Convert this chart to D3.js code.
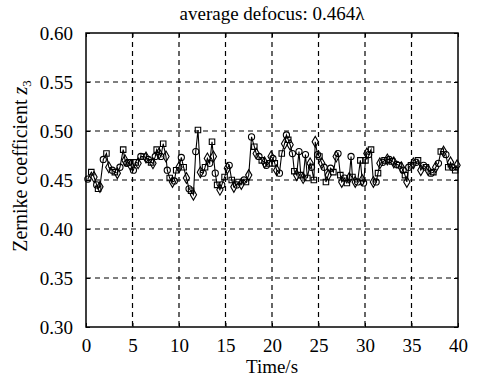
<!DOCTYPE html>
<html><head><meta charset="utf-8">
<script src="https://cdn.jsdelivr.net/npm/d3@7.8.5/dist/d3.min.js"></script>
<style>body{margin:0;background:#fff}svg{display:block}svg text{font-family:'Liberation Serif',serif !important}</style>
</head><body><svg id="c" width="480" height="379" font-family="Liberation Serif"></svg>
<script>
const time = [0.2,0.57,0.86,1.15,1.3,1.5,1.86,2.2,2.45,2.83,3.1,3.37,3.65,4.0,4.2,4.4,4.6,4.8,5.1,5.35,5.6,5.9,6.2,6.45,6.7,7.0,7.2,7.45,7.6,7.85,8.05,8.3,8.6,8.74,9.0,9.3,9.5,9.7,10.0,10.25,10.5,10.8,11.08,11.3,11.55,11.8,12.04,12.3,12.6,12.8,13.05,13.3,13.55,13.7,13.9,14.1,14.4,14.6,14.9,15.2,15.4,15.67,15.9,16.2,16.4,16.7,17.0,17.2,17.5,17.8,18.1,18.3,18.6,18.9,19.2,19.4,19.7,19.9,20.1,20.3,20.5,20.8,21.05,21.35,21.55,21.75,21.95,22.2,22.4,22.65,22.9,23.1,23.35,23.6,23.8,24.1,24.25,24.5,24.65,24.9,25.1,25.35,25.6,25.8,26.05,26.3,26.6,26.9,27.1,27.35,27.5,27.8,28.05,28.3,28.5,28.65,28.95,29.2,29.5,29.7,29.85,30.05,30.2,30.4,30.65,30.9,31.2,31.4,31.6,31.9,32.1,32.4,32.6,32.9,33.1,33.4,33.65,33.9,34.1,34.3,34.5,34.7,34.95,35.2,35.5,35.7,36.0,36.3,36.55,36.8,37.1,37.35,37.6,37.9,38.15,38.45,38.7,38.95,39.2,39.4,39.7,39.9];
const coeff = [0.451,0.458,0.453,0.445,0.441,0.443,0.471,0.477,0.463,0.460,0.458,0.457,0.463,0.481,0.470,0.467,0.468,0.465,0.460,0.468,0.467,0.474,0.474,0.473,0.471,0.468,0.467,0.474,0.481,0.477,0.474,0.487,0.474,0.460,0.452,0.448,0.449,0.460,0.463,0.473,0.463,0.452,0.441,0.439,0.435,0.479,0.501,0.458,0.457,0.463,0.472,0.467,0.489,0.474,0.457,0.445,0.440,0.445,0.453,0.462,0.465,0.450,0.443,0.445,0.448,0.446,0.450,0.448,0.455,0.494,0.484,0.477,0.474,0.470,0.468,0.465,0.467,0.474,0.472,0.467,0.460,0.457,0.477,0.487,0.496,0.491,0.486,0.477,0.459,0.455,0.479,0.455,0.452,0.476,0.452,0.467,0.463,0.450,0.489,0.476,0.474,0.467,0.463,0.448,0.455,0.462,0.458,0.474,0.477,0.455,0.448,0.452,0.447,0.452,0.474,0.453,0.448,0.448,0.470,0.450,0.447,0.470,0.477,0.476,0.481,0.448,0.448,0.457,0.467,0.468,0.470,0.471,0.471,0.469,0.468,0.466,0.465,0.463,0.460,0.455,0.448,0.463,0.465,0.467,0.468,0.470,0.460,0.465,0.463,0.460,0.457,0.458,0.463,0.467,0.479,0.479,0.476,0.463,0.468,0.463,0.460,0.465];
const xTicks = [0,5,10,15,20,25,30,35,40];
const yTicks = [0.30,0.35,0.40,0.45,0.50,0.55,0.60];
const markerTypes = ["circle","square","diamond"];

const FONT = "Liberation Serif";
const svg = d3.select("#c");
const L=86,R=458,T=33,B=327;
const x = d3.scaleLinear().domain([0,40]).range([L,R]);
const y = d3.scaleLinear().domain([0.30,0.60]).range([B,T]);

function serif(sel,size){
  return sel.attr("font-family",FONT).style("font-family",FONT).attr("font-size",size).style("font-size",size+"px");
}

const g = svg.append("g");
g.selectAll(".vg").data(xTicks.slice(1,-1)).join("line")
 .attr("x1",d=>x(d)).attr("x2",d=>x(d)).attr("y1",T).attr("y2",B)
 .attr("stroke","#000").attr("stroke-width",1.2).attr("stroke-dasharray","5,4");
g.selectAll(".hg").data(yTicks.slice(1,-1)).join("line")
 .attr("y1",d=>y(d)).attr("y2",d=>y(d)).attr("x1",L).attr("x2",R)
 .attr("stroke","#000").attr("stroke-width",1.2).attr("stroke-dasharray","5,4");

const xa = svg.append("g").attr("transform",`translate(0,${B})`)
 .call(d3.axisBottom(x).tickValues(xTicks).tickFormat(d3.format("d")).tickSizeInner(-4).tickSizeOuter(0).tickPadding(12));
const xt = svg.append("g").attr("transform",`translate(0,${T})`)
 .call(d3.axisTop(x).tickValues(xTicks).tickFormat("").tickSizeInner(-4).tickSizeOuter(0));
const ya = svg.append("g").attr("transform",`translate(${L},0)`)
 .call(d3.axisLeft(y).tickValues(yTicks).tickFormat(d3.format(".2f")).tickSizeInner(-4).tickSizeOuter(0).tickPadding(13));
const yr = svg.append("g").attr("transform",`translate(${R},0)`)
 .call(d3.axisRight(y).tickValues(yTicks).tickFormat("").tickSizeInner(-4).tickSizeOuter(0));
[xa,xt,ya,yr].forEach(a=>{
  serif(a,19);
  a.select(".domain").remove();
  a.selectAll("line").attr("stroke","#000");
  serif(a.selectAll("text"),19).attr("fill","#000");
});
svg.append("rect").attr("x",L).attr("y",T).attr("width",R-L).attr("height",B-T)
 .attr("fill","none").attr("stroke","#000").attr("stroke-width",1.5);

const pts = time.map((t,i)=>({t,v:coeff[i],m:markerTypes[i%3]}));
svg.append("path").datum(pts)
 .attr("d",d3.line().x(d=>x(d.t)).y(d=>y(d.v)))
 .attr("fill","none").attr("stroke","#000").attr("stroke-width",1.1);
const sym = {circle:d3.symbolCircle,square:d3.symbolSquare,diamond:d3.symbolDiamond};
svg.selectAll(".mk").data(pts).join("path")
 .attr("transform",d=>`translate(${x(d.t)},${y(d.v)})`)
 .attr("d",d=>d3.symbol().type(sym[d.m]).size(d.m==="diamond"?34:30)())
 .attr("fill","none").attr("stroke","#000").attr("stroke-width",1.1);

serif(svg.append("text"),19).attr("x",272).attr("y",20).attr("text-anchor","middle")
 .text("average defocus: 0.464λ");
serif(svg.append("text"),19).attr("x",272).attr("y",373).attr("text-anchor","middle")
 .text("Time/s");
const yl = serif(svg.append("text"),20).attr("transform","translate(27,166) rotate(-90)").attr("text-anchor","middle");
yl.append("tspan").text("Zernike coefficient ");
yl.append("tspan").attr("font-style","italic").text("z");
yl.append("tspan").attr("font-size",13).style("font-size","13px").attr("dy",4).text("3");
</script></body></html>
